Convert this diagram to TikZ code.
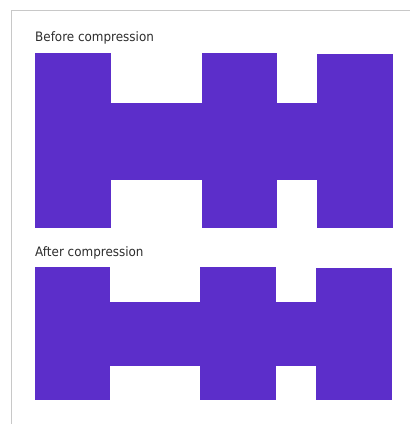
\documentclass[tikz,border=0pt]{standalone}
\usepackage{fontspec}
\setmainfont{DejaVu Sans}[FakeStretch=0.92]
\definecolor{blockfill}{RGB}{92,46,202}
\definecolor{framegray}{RGB}{200,200,200}
\definecolor{labelgray}{RGB}{45,45,45}
\begin{document}
\begin{tikzpicture}[
  x=1pt, y=-1pt,
  block/.style={fill=blockfill, draw=none},
  caption/.style={anchor=base west, inner sep=0pt, text=labelgray, font=\fontsize{13}{15}\selectfont}
]
  \useasboundingbox (0,0) rectangle (410,424);

  % frame, open at right and bottom
  \draw[framegray, line width=1pt] (11,424) -- (11,10.5) -- (410,10.5);

  % before compression
  \node[caption] (before) at (35,41.5) {Before compression};
  \fill[block] (35,53) rectangle (111,228);
  \fill[block] (202,53) rectangle (277,228);
  \fill[block] (317,54) rectangle (393,228);
  \fill[block] (110,103) rectangle (318,180);

  % after compression
  \node[caption] (after) at (35,256.5) {After compression};
  \fill[block] (35,267) rectangle (110,400);
  \fill[block] (200,267) rectangle (276,400);
  \fill[block] (316,268) rectangle (392,400);
  \fill[block] (109,302) rectangle (317,366);
\end{tikzpicture}
\end{document}
